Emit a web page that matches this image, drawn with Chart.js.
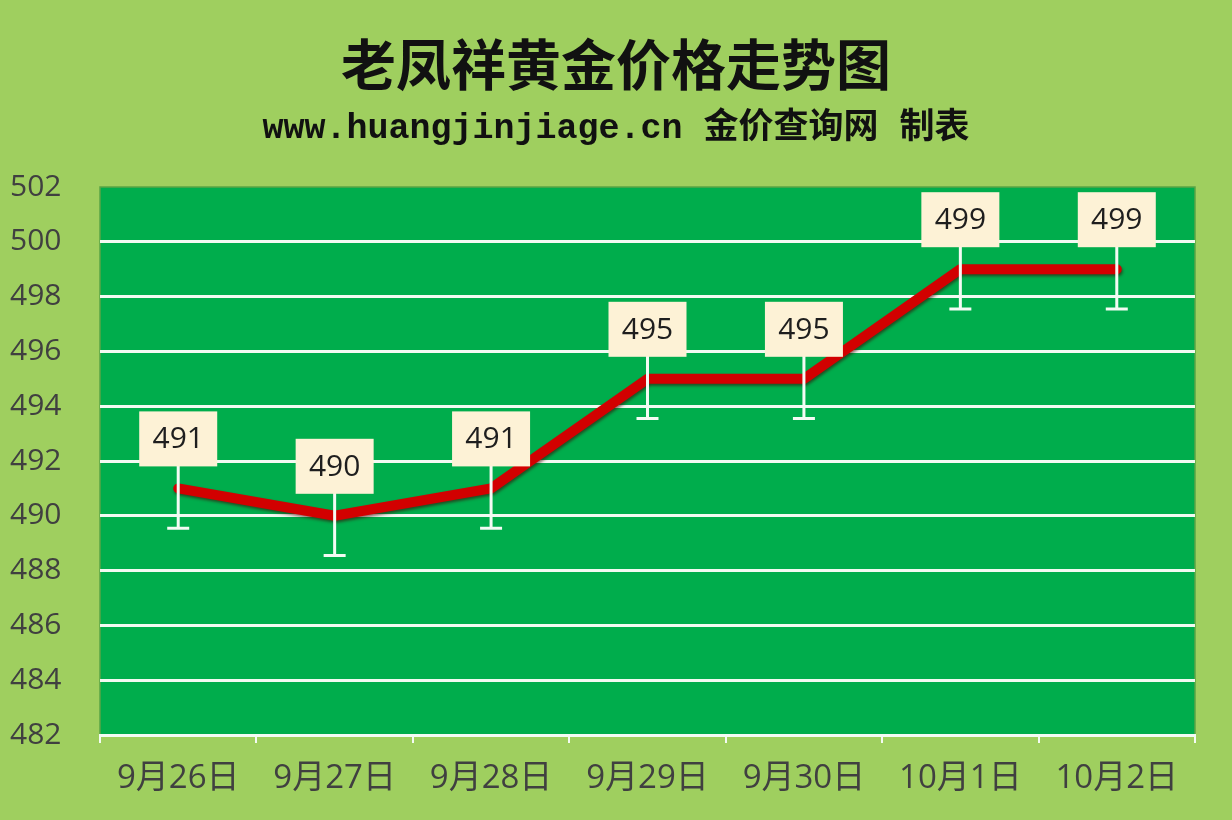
<!DOCTYPE html>
<html>
<head>
<meta charset="utf-8">
<script src="https://cdn.jsdelivr.net/npm/chart.js@4"></script>
<style>
  html, body { margin: 0; padding: 0; background: #9fcf5f; }
  #wrap { width: 1232px; height: 820px; }
</style>
</head>
<body>
<div id="wrap"><canvas id="c" width="1232" height="820"></canvas></div>
<script>
const titleText = '老凤祥黄金价格走势图';
const subtitleText = 'www.huangjinjiage.cn 金价查询网 制表';
const categories = ['9月26日', '9月27日', '9月28日', '9月29日', '9月30日', '10月1日', '10月2日'];
const prices = [491, 490, 491, 495, 495, 499, 499];
const errorAmount = 1.45;
const yMin = 482, yMax = 502, yStep = 2;

const bgPlugin = {
  id: 'bg',
  beforeDraw(chart) {
    const { ctx, chartArea: a } = chart;
    ctx.save();
    ctx.fillStyle = '#9fcf5f';
    ctx.fillRect(0, 0, chart.width, chart.height);
    ctx.fillStyle = '#00ad4c';
    ctx.fillRect(a.left, a.top, a.right - a.left, a.bottom - a.top);
    ctx.strokeStyle = '#5aa545';
    ctx.lineWidth = 1.5;
    ctx.strokeRect(a.left, a.top, a.right - a.left, a.bottom - a.top);
    ctx.restore();
  },
  beforeDatasetsDraw(chart) {
    const ctx = chart.ctx;
    ctx.save();
    ctx.shadowColor = 'rgba(60,0,0,0.55)';
    ctx.shadowBlur = 3;
    ctx.shadowOffsetX = 1;
    ctx.shadowOffsetY = 2;
  },
  afterDatasetsDraw(chart) {
    const ctx = chart.ctx;
    ctx.restore();
    const ys = chart.scales.y;
    const meta = chart.getDatasetMeta(0);
    ctx.save();
    meta.data.forEach((pt, i) => {
      const v = prices[i];
      const x = pt.x, y = pt.y;
      const yLow = ys.getPixelForValue(v - errorAmount);
      const yHigh = ys.getPixelForValue(v + errorAmount);
      ctx.strokeStyle = '#f4fbf4';
      ctx.lineWidth = 3;
      ctx.beginPath();
      ctx.moveTo(x, yHigh);
      ctx.lineTo(x, yLow);
      ctx.moveTo(x - 11, yLow);
      ctx.lineTo(x + 11, yLow);
      ctx.stroke();
      const bw = 78, bh = 55;
      const by = y - 22 - bh;
      ctx.fillStyle = '#fdf2d6';
      ctx.fillRect(x - bw / 2, by, bw, bh);
      ctx.fillStyle = '#1e1e1e';
      ctx.font = '30px "Open Sans", "Noto Sans", sans-serif';
      ctx.textAlign = 'center';
      ctx.textBaseline = 'middle';
      ctx.fillText(String(v), x, by + bh / 2 + 1);
    });
    ctx.restore();
  }
};

new Chart(document.getElementById('c'), {
  type: 'line',
  data: {
    labels: categories,
    datasets: [{
      data: prices,
      yAxisID: 'y',
      borderColor: '#d20000',
      borderWidth: 10,
      pointRadius: 0,
      pointHoverRadius: 0,
      tension: 0,
      borderCapStyle: 'round',
      borderJoinStyle: 'round',
      fill: false
    }]
  },
  options: {
    responsive: false,
    animation: false,
    devicePixelRatio: 1,
    events: [],
    layout: { padding: { left: 10, right: 10, top: 0, bottom: 0 } },
    plugins: {
      legend: { display: false },
      tooltip: { enabled: false },
      title: {
        display: true,
        text: titleText,
        color: '#111',
        font: { family: '"Noto Sans CJK SC", sans-serif', size: 55, weight: 'bold', lineHeight: 1.2 },
        padding: { top: 31, bottom: 0 }
      },
      subtitle: {
        display: true,
        text: subtitleText,
        color: '#111',
        font: { family: '"Liberation Mono", "Noto Sans CJK SC", monospace', size: 35, weight: 'bold', lineHeight: 1.2 },
        padding: { top: 11, bottom: 37 }
      }
    },
    scales: {
      x: {
        type: 'category',
        offset: true,
        afterFit(scale) { scale.height = 85; },
        grid: {
          display: true,
          offset: true,
          drawOnChartArea: false,
          drawTicks: true,
          tickLength: 8,
          color: '#f4fbf4',
          lineWidth: 2
        },
        border: { display: true, color: '#f4fbf4', width: 3 },
        ticks: {
          color: '#404040',
          padding: 16,
          maxRotation: 0,
          font: { family: '"Open Sans", "Noto Sans CJK SC", sans-serif', size: 33 }
        }
      },
      y: {
        position: 'left',
        min: yMin,
        max: yMax,
        afterFit(scale) { scale.width = 90; },
        grid: {
          drawTicks: false,
          lineWidth: 3,
          color(ctx) {
            const v = ctx.tick && ctx.tick.value;
            return (v === yMin || v === yMax) ? 'rgba(0,0,0,0)' : '#f2faf2';
          }
        },
        border: { display: false },
        ticks: {
          stepSize: yStep,
          crossAlign: 'far',
          color: '#404040',
          font: { family: '"Open Sans", "Noto Sans", sans-serif', size: 30 }
        }
      },
      yRight: {
        position: 'right',
        min: yMin,
        max: yMax,
        afterFit(scale) { scale.width = 27; },
        grid: { display: false, drawTicks: false },
        border: { display: false },
        ticks: { display: false }
      }
    }
  },
  plugins: [bgPlugin]
});
</script>
</body>
</html>
